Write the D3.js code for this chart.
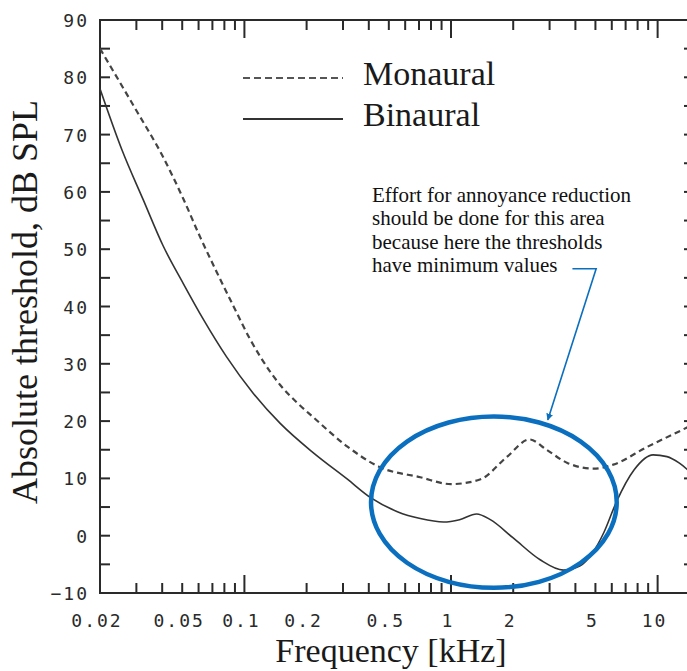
<!DOCTYPE html>
<html>
<head>
<meta charset="utf-8">
<script src="https://cdn.jsdelivr.net/npm/d3@7"></script>
<style>
  body { margin: 0; background: #fff; }
  svg { display: block; }
</style>
</head>
<body>
<svg id="chart" width="687" height="671"></svg>
<script>
const width = 687;
const height = 671;
const margin = { left: 100, top: 20, right: -7, bottom: 78 };

// data (frequency in kHz, threshold in dB SPL)
const monoFreq = [0.02, 0.03, 0.04, 0.0506, 0.0611, 0.0737, 0.0884, 0.1065, 0.134, 0.149, 0.18, 0.215, 0.314, 0.45, 0.71, 1.0, 1.38, 1.87, 2.4, 2.9, 3.66, 4.9, 6.1, 8.9, 12.7, 15];
const monoLevel = [85, 74.2, 66.4, 58.8, 52.1, 45.9, 40.1, 34.3, 28.5, 26.3, 23.2, 20.7, 15.6, 12.0, 10.2, 9.0, 9.8, 13.8, 16.8, 15.0, 12.7, 11.7, 12.4, 15.5, 18.2, 19.5];

const binFreq = [0.02, 0.0255, 0.0324, 0.0404, 0.0506, 0.0634, 0.082, 0.11, 0.149, 0.215, 0.314, 0.41, 0.55, 0.71, 0.92, 1.1, 1.33, 1.55, 2.0, 2.7, 3.5, 4.2, 4.8, 5.5, 6.3, 7.7, 9.5, 11.1, 12.7, 15];
const binLevel = [78, 67.4, 58.6, 50.6, 44.0, 37.7, 31.2, 24.9, 19.6, 14.5, 9.9, 6.6, 4.2, 3.0, 2.4, 2.8, 3.8, 2.8, -0.4, -4.2, -6.0, -5.3, -3.2, 0.6, 5.8, 11.5, 14.1, 13.8, 12.7, 10.5];

const xTickLabels = [0.02, 0.05, 0.1, 0.2, 0.5, 1, 2, 5, 10];
const xMajorTicks = [0.1, 1, 10];
const xMinorTicks = [0.03, 0.04, 0.05, 0.06, 0.07, 0.08, 0.09,
  0.2, 0.3, 0.4, 0.5, 0.6, 0.7, 0.8, 0.9,
  2, 3, 4, 5, 6, 7, 8, 9];
const yTickLabels = [-10, 0, 10, 20, 30, 40, 50, 60, 70, 80, 90];
const yTicks = d3.range(-10, 91, 5);

const legendNames = ['Monaural', 'Binaural'];
const noteLines = ['Effort for annoyance reduction', 'should be done for this area',
  'because here the thresholds', 'have minimum values'];

// annotation region (data space)
const areaFreq = [0.41, 6.34];
const areaLevel = [-9.1, 20.8];
const arrowFreq = [3.87, 5.04, 2.94];
const arrowLevel = [46.6, 46.6, 20.2];

const x = d3.scaleLog().domain([0.02, 15]).range([margin.left, width - margin.right]);
const y = d3.scaleLinear().domain([-10, 90]).range([height - margin.bottom, margin.top]);

const svg = d3.select('#chart');
const ink = '#2a2a2a';
const blue = '#0b6fbf';

svg.append('defs').append('clipPath').attr('id', 'plot')
  .append('rect')
  .attr('x', x.range()[0]).attr('y', y.range()[1])
  .attr('width', x.range()[1] - x.range()[0])
  .attr('height', y.range()[0] - y.range()[1]);

// frame
const x0 = x.range()[0], x1 = x.range()[1], yb = y.range()[0], yt = y.range()[1];
svg.append('path')
  .attr('d', `M${x1},${yt}H${x0}V${yb}H${x1}V${yt}`)
  .attr('fill', 'none').attr('stroke', ink).attr('stroke-width', 2);

// x ticks (inside, bottom and top)
const xt = svg.append('g').attr('stroke', ink).attr('stroke-width', 2);
xMinorTicks.forEach(f => {
  xt.append('line').attr('x1', x(f)).attr('x2', x(f)).attr('y1', yb).attr('y2', yb - 10);
  xt.append('line').attr('x1', x(f)).attr('x2', x(f)).attr('y1', yt).attr('y2', yt + 10);
});
xMajorTicks.forEach(f => {
  xt.append('line').attr('x1', x(f)).attr('x2', x(f)).attr('y1', yb).attr('y2', yb - 18);
  xt.append('line').attr('x1', x(f)).attr('x2', x(f)).attr('y1', yt).attr('y2', yt + 18);
});

// y ticks (inside, left and right)
yTicks.forEach(v => {
  xt.append('line').attr('x1', x0).attr('x2', x0 + 10).attr('y1', y(v)).attr('y2', y(v));
  xt.append('line').attr('x1', x1).attr('x2', x1 - 10).attr('y1', y(v)).attr('y2', y(v));
});

// tick labels
const tickFont = "'DejaVu Sans Mono', monospace";
svg.append('g').selectAll('text').data(xTickLabels).join('text')
  .attr('x', d => x(d) - 3).attr('y', 627)
  .attr('text-anchor', 'middle')
  .attr('font-family', tickFont).attr('font-size', 18)
  .attr('letter-spacing', 2)
  .attr('fill', '#2a2a2a')
  .text(d => d);

svg.append('g').selectAll('text').data(yTickLabels).join('text')
  .attr('x', 89).attr('y', d => y(d) + 7)
  .attr('text-anchor', 'end')
  .attr('font-family', tickFont).attr('font-size', 18)
  .attr('letter-spacing', 2)
  .attr('fill', '#2a2a2a')
  .text(d => d < 0 ? '\u2212' + Math.abs(d) : d);

// axis titles
const serif = "'Liberation Serif', 'Times New Roman', serif";
svg.append('text')
  .attr('transform', 'translate(37,302) rotate(-90)')
  .attr('text-anchor', 'middle')
  .attr('font-family', serif).attr('font-size', 36)
  .attr('fill', '#1a1a1a')
  .text('Absolute threshold, dB SPL');

svg.append('text')
  .attr('x', 391).attr('y', 662)
  .attr('text-anchor', 'middle')
  .attr('font-family', serif).attr('font-size', 34)
  .attr('fill', '#1a1a1a')
  .text('Frequency [kHz]');

// curves
const line = d3.line()
  .x(d => x(d[0]))
  .y(d => y(d[1]))
  .curve(d3.curveMonotoneX);

const curves = svg.append('g').attr('clip-path', 'url(#plot)');
curves.append('path')
  .attr('d', line(d3.zip(monoFreq, monoLevel)))
  .attr('fill', 'none').attr('stroke', '#444').attr('stroke-width', 2.2)
  .attr('stroke-dasharray', '6,4');
curves.append('path')
  .attr('d', line(d3.zip(binFreq, binLevel)))
  .attr('fill', 'none').attr('stroke', '#333').attr('stroke-width', 1.6);

// legend
const legend = svg.append('g');
legendNames.forEach((name, i) => {
  const ly = 78 + i * 41;
  legend.append('line')
    .attr('x1', 243).attr('x2', 343).attr('y1', ly).attr('y2', ly)
    .attr('stroke', i === 0 ? '#555' : '#333')
    .attr('stroke-width', i === 0 ? 2 : 2.2)
    .attr('stroke-dasharray', i === 0 ? '7,4' : null);
  legend.append('text')
    .attr('x', 363).attr('y', ly + 7)
    .attr('font-family', serif).attr('font-size', 34)
    .attr('fill', '#1a1a1a')
    .text(name);
});

// annotation text
svg.append('g').selectAll('text').data(noteLines).join('text')
  .attr('x', 372).attr('y', (d, i) => 202 + i * 23.3)
  .attr('font-family', serif).attr('font-size', 21)
  .attr('fill', '#111')
  .text(d => d);

// highlighted area
const cx = (x(areaFreq[0]) + x(areaFreq[1])) / 2;
const cy = (y(areaLevel[0]) + y(areaLevel[1])) / 2;
svg.append('ellipse')
  .attr('cx', cx).attr('cy', cy)
  .attr('rx', (x(areaFreq[1]) - x(areaFreq[0])) / 2)
  .attr('ry', (y(areaLevel[0]) - y(areaLevel[1])) / 2)
  .attr('fill', 'none').attr('stroke', blue).attr('stroke-width', 4.5);

// arrow
svg.select('defs').append('marker')
  .attr('id', 'head')
  .attr('viewBox', '0 0 10 10')
  .attr('refX', 9).attr('refY', 5)
  .attr('markerWidth', 7).attr('markerHeight', 7)
  .attr('markerUnits', 'userSpaceOnUse')
  .attr('orient', 'auto')
  .append('path').attr('d', 'M0,0L10,5L0,10Z').attr('fill', blue);

svg.append('path')
  .attr('d', d3.line()(d3.zip(arrowFreq.map(x), arrowLevel.map(y))))
  .attr('fill', 'none').attr('stroke', blue).attr('stroke-width', 1.6)
  .attr('marker-end', 'url(#head)');
</script>
</body>
</html>
